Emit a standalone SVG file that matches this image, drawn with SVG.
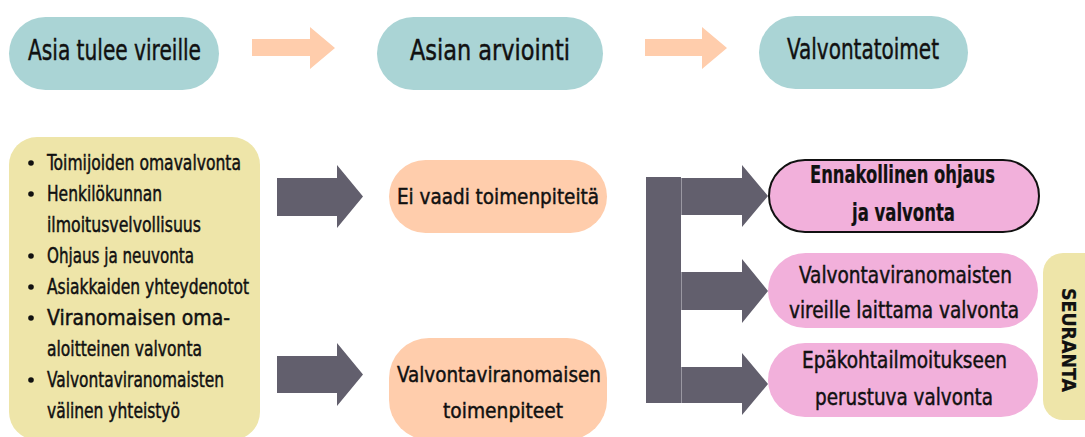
<svg xmlns="http://www.w3.org/2000/svg" width="1085" height="437" viewBox="0 0 1085 437">
<style>
.t{font-family:"DejaVu Sans Condensed","Liberation Sans Narrow","DejaVu Sans",sans-serif;font-stretch:condensed;fill:#111;stroke:#111;stroke-width:0.45;}
.teal{fill:#AAD4D5;}
.peach{fill:#FFCDAC;}
.yel{fill:#EEE5A9;}
.pink{fill:#F2B0DB;}
.dark{fill:#625F6D;}
.b{font-weight:bold;stroke-width:0.2;}
</style>
<rect width="1085" height="437" fill="#fff"/>
<g id="n-vireille"><rect class="teal" x="9" y="17" width="210" height="73" rx="36.5"/><text class="t" x="28" y="59.5" font-size="29" textLength="173" lengthAdjust="spacingAndGlyphs">Asia tulee vireille</text></g>
<g id="n-arviointi"><rect class="teal" x="377" y="17" width="226" height="73" rx="36.5"/><text class="t" x="410" y="59.5" font-size="29" textLength="160" lengthAdjust="spacingAndGlyphs">Asian arviointi</text></g>
<g id="n-valvontatoimet"><rect class="teal" x="759" y="16" width="209" height="73" rx="36.5"/><text class="t" x="787" y="59" font-size="29" textLength="152" lengthAdjust="spacingAndGlyphs">Valvontatoimet</text></g>
<g id="n-lahteet"><rect class="yel" x="9" y="137" width="251" height="303" rx="28"/>
<g fill="#111"><circle cx="31" cy="163" r="2.8"/><circle cx="31" cy="194" r="2.8"/><circle cx="31" cy="256" r="2.8"/><circle cx="31" cy="287" r="2.8"/><circle cx="31" cy="318" r="2.8"/><circle cx="31" cy="380" r="2.8"/></g>
<text class="t" x="47" y="170" font-size="20.5" textLength="194" lengthAdjust="spacingAndGlyphs">Toimijoiden omavalvonta</text>
<text class="t" x="47" y="201" font-size="20.5" textLength="115" lengthAdjust="spacingAndGlyphs">Henkilökunnan</text>
<text class="t" x="47" y="232" font-size="20.5" textLength="154" lengthAdjust="spacingAndGlyphs">ilmoitusvelvollisuus</text>
<text class="t" x="47" y="263" font-size="20.5" textLength="147" lengthAdjust="spacingAndGlyphs">Ohjaus ja neuvonta</text>
<text class="t" x="47" y="294" font-size="20.5" textLength="202" lengthAdjust="spacingAndGlyphs">Asiakkaiden yhteydenotot</text>
<text class="t" x="47" y="325" font-size="20.5" textLength="183" lengthAdjust="spacingAndGlyphs">Viranomaisen oma-</text>
<text class="t" x="47" y="356" font-size="20.5" textLength="155" lengthAdjust="spacingAndGlyphs">aloitteinen valvonta</text>
<text class="t" x="47" y="387" font-size="20.5" textLength="177" lengthAdjust="spacingAndGlyphs">Valvontaviranomaisten</text>
<text class="t" x="47" y="418" font-size="20.5" textLength="133" lengthAdjust="spacingAndGlyphs">välinen yhteistyö</text>
</g>
<g id="n-ei-vaadi"><rect class="peach" x="389" y="160" width="218" height="73" rx="36.5"/><text class="t" x="397" y="204" font-size="22" textLength="202" lengthAdjust="spacingAndGlyphs">Ei vaadi toimenpiteitä</text></g>
<g id="n-toimenpiteet"><rect class="peach" x="389" y="338" width="218" height="102" rx="40"/><text class="t" x="397" y="382" font-size="22" textLength="204" lengthAdjust="spacingAndGlyphs">Valvontaviranomaisen</text><text class="t" x="443" y="418" font-size="22" textLength="120" lengthAdjust="spacingAndGlyphs">toimenpiteet</text></g>
<g id="n-ennakollinen"><rect class="pink" x="769" y="160" width="270" height="72" rx="36" stroke="#111" stroke-width="2"/><text class="t b" x="810" y="183" font-size="24" textLength="185" lengthAdjust="spacingAndGlyphs">Ennakollinen ohjaus</text><text class="t b" x="852" y="221" font-size="24" textLength="103" lengthAdjust="spacingAndGlyphs">ja valvonta</text></g>
<g id="n-vireille-laittama"><rect class="pink" x="768" y="253" width="270" height="75" rx="37.5"/><text class="t" x="799" y="283" font-size="23" textLength="213" lengthAdjust="spacingAndGlyphs">Valvontaviranomaisten</text><text class="t" x="789" y="318" font-size="23" textLength="230" lengthAdjust="spacingAndGlyphs">vireille laittama valvonta</text></g>
<g id="n-epakohta"><rect class="pink" x="768" y="343" width="270" height="74" rx="37"/><text class="t" x="802" y="368" font-size="23" textLength="205" lengthAdjust="spacingAndGlyphs">Epäkohtailmoitukseen</text><text class="t" x="815" y="405" font-size="23" textLength="178" lengthAdjust="spacingAndGlyphs">perustuva valvonta</text></g>
<g id="n-seuranta"><rect class="yel" x="1043" y="253" width="60" height="167" rx="20"/><text class="t b" transform="translate(1062,288) rotate(90)" font-size="19" textLength="104" lengthAdjust="spacingAndGlyphs">SEURANTA</text></g>
<g id="connectors">
<polygon class="peach" points="252,39 310,39 310,27 335,48 310,69 310,56 252,56"/>
<polygon class="peach" points="645,39 702,39 702,27 727,48 702,69 702,56 645,56"/>
<polygon class="dark" points="277,178 337,178 337,165 363,196.5 337,228 337,216 277,216"/>
<polygon class="dark" points="277,356 337,356 337,343 363,374.5 337,406 337,393 277,393"/>
<rect class="dark" x="646" y="177" width="35" height="226"/>
<polygon class="dark" points="681,178 742,178 742,165 768,196 742,227 742,215 681,215"/>
<polygon class="dark" points="681,272 742,272 742,259 768,291 742,323 742,310 681,310"/>
<polygon class="dark" points="681,367 742,367 742,353 768,384 742,415 742,403 681,403"/>
<g stroke="#9a98a2" stroke-width="1"><line x1="681.5" y1="178" x2="681.5" y2="215"/><line x1="681.5" y1="272" x2="681.5" y2="310"/><line x1="681.5" y1="367" x2="681.5" y2="403"/></g>
</g>
</svg>
